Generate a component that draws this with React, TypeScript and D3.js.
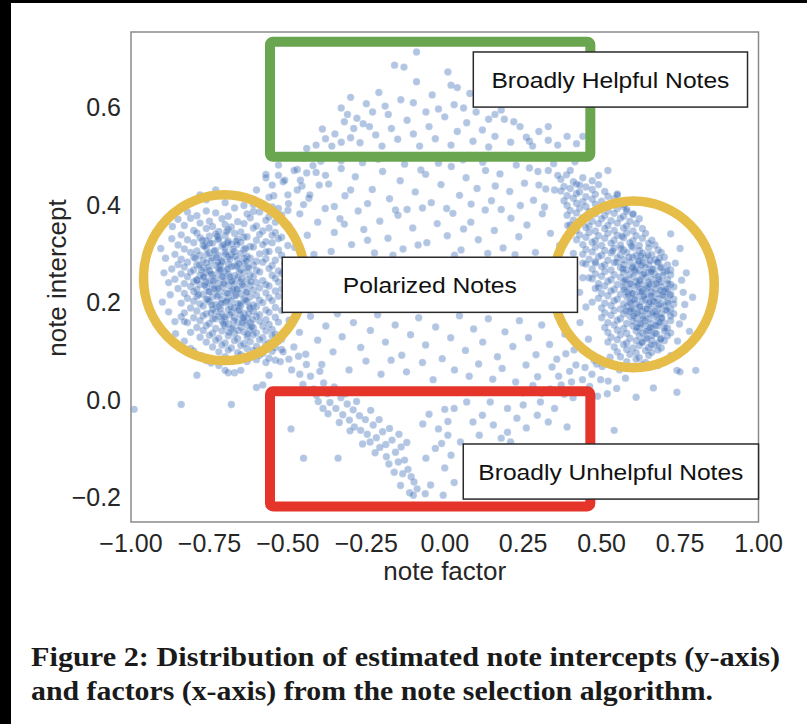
import React from "react";
import * as d3 from "d3";

// ---------- data ----------
const xTicks = [-1, -0.75, -0.5, -0.25, 0, 0.25, 0.5, 0.75, 1];
const yTicks = [-0.2, 0, 0.2, 0.4, 0.6];
const xDomain = [-1, 1];
const yDomain = [-0.251, 0.754];

const leftCluster = [
[-0.70,0.404],[-0.64,0.398],[-0.58,0.401],[-0.55,0.395],
[-0.76,0.387],[-0.67,0.393],[-0.61,0.386],[-0.53,0.392],[-0.50,0.388],
[-0.79,0.377],[-0.73,0.383],[-0.69,0.376],[-0.63,0.381],[-0.59,0.385],[-0.56,0.375],[-0.52,0.379],
[-0.81,0.372],[-0.75,0.366],[-0.71,0.371],[-0.66,0.365],[-0.62,0.373],[-0.57,0.368],[-0.54,0.364],
[-0.83,0.357],[-0.78,0.362],[-0.74,0.355],[-0.70,0.359],[-0.68,0.354],[-0.64,0.361],[-0.60,0.356],[-0.56,0.352],[-0.51,0.358],
[-0.80,0.347],[-0.76,0.351],[-0.72,0.345],[-0.69,0.349],[-0.65,0.344],[-0.61,0.352],[-0.58,0.346],[-0.54,0.343],
[-0.84,0.338],[-0.79,0.342],[-0.75,0.335],[-0.73,0.340],[-0.70,0.336],[-0.67,0.341],[-0.63,0.334],[-0.59,0.339],[-0.55,0.337],[-0.52,0.333],
[-0.82,0.328],[-0.78,0.332],[-0.76,0.326],[-0.72,0.331],[-0.69,0.325],[-0.66,0.329],[-0.64,0.333],[-0.60,0.327],[-0.57,0.324],[-0.53,0.330],
[-0.85,0.317],[-0.80,0.322],[-0.77,0.316],[-0.74,0.321],[-0.71,0.315],[-0.68,0.319],[-0.65,0.323],[-0.62,0.314],[-0.58,0.318],[-0.55,0.322],[-0.50,0.316],
[-0.83,0.309],[-0.79,0.305],[-0.76,0.311],[-0.73,0.306],[-0.70,0.312],[-0.67,0.304],[-0.64,0.308],[-0.61,0.313],[-0.57,0.303],[-0.53,0.307],
[-0.86,0.298],[-0.81,0.302],[-0.78,0.296],[-0.75,0.301],[-0.72,0.295],[-0.70,0.303],[-0.68,0.297],[-0.65,0.300],[-0.63,0.294],[-0.59,0.299],[-0.56,0.304],[-0.52,0.296],
[-0.84,0.288],[-0.80,0.292],[-0.77,0.286],[-0.74,0.291],[-0.71,0.285],[-0.69,0.293],[-0.66,0.287],[-0.62,0.290],[-0.60,0.284],[-0.57,0.289],[-0.54,0.286],
[-0.85,0.277],[-0.82,0.282],[-0.79,0.276],[-0.76,0.281],[-0.73,0.275],[-0.71,0.283],[-0.69,0.278],[-0.67,0.274],[-0.64,0.280],[-0.61,0.276],[-0.58,0.282],[-0.55,0.275],[-0.51,0.279],
[-0.87,0.268],[-0.83,0.272],[-0.80,0.266],[-0.77,0.271],[-0.75,0.265],[-0.72,0.270],[-0.70,0.264],[-0.68,0.273],[-0.65,0.267],[-0.63,0.271],[-0.60,0.265],[-0.56,0.269],[-0.53,0.264],
[-0.84,0.258],[-0.81,0.262],[-0.78,0.255],[-0.76,0.261],[-0.74,0.256],[-0.72,0.263],[-0.69,0.257],[-0.67,0.254],[-0.64,0.260],[-0.62,0.256],[-0.59,0.262],[-0.55,0.255],[-0.52,0.259],
[-0.86,0.247],[-0.82,0.252],[-0.79,0.246],[-0.77,0.251],[-0.75,0.244],[-0.73,0.249],[-0.71,0.253],[-0.68,0.245],[-0.66,0.250],[-0.63,0.246],[-0.61,0.252],[-0.58,0.244],[-0.54,0.249],[-0.50,0.246],
[-0.83,0.238],[-0.80,0.242],[-0.78,0.236],[-0.76,0.241],[-0.74,0.235],[-0.72,0.239],[-0.70,0.243],[-0.67,0.237],[-0.65,0.241],[-0.62,0.234],[-0.60,0.240],[-0.57,0.236],[-0.53,0.241],
[-0.85,0.228],[-0.81,0.232],[-0.79,0.226],[-0.76,0.231],[-0.73,0.225],[-0.71,0.230],[-0.69,0.234],[-0.66,0.227],[-0.64,0.232],[-0.61,0.225],[-0.59,0.229],[-0.56,0.233],[-0.52,0.227],
[-0.83,0.218],[-0.80,0.222],[-0.77,0.216],[-0.75,0.221],[-0.72,0.215],[-0.70,0.219],[-0.68,0.223],[-0.65,0.217],[-0.63,0.221],[-0.60,0.214],[-0.57,0.219],[-0.54,0.223],[-0.50,0.216],
[-0.82,0.208],[-0.79,0.212],[-0.76,0.206],[-0.74,0.211],[-0.71,0.205],[-0.69,0.209],[-0.67,0.213],[-0.64,0.207],[-0.62,0.211],[-0.59,0.204],[-0.56,0.209],[-0.53,0.212],
[-0.84,0.198],[-0.80,0.202],[-0.78,0.196],[-0.75,0.201],[-0.73,0.195],[-0.70,0.199],[-0.68,0.203],[-0.66,0.197],[-0.63,0.201],[-0.61,0.194],[-0.58,0.199],[-0.55,0.203],[-0.51,0.197],
[-0.81,0.188],[-0.77,0.192],[-0.74,0.186],[-0.72,0.191],[-0.69,0.185],[-0.67,0.189],[-0.65,0.193],[-0.62,0.187],[-0.60,0.191],[-0.57,0.184],[-0.54,0.189],
[-0.83,0.178],[-0.79,0.182],[-0.76,0.176],[-0.73,0.181],[-0.71,0.175],[-0.68,0.179],[-0.66,0.183],[-0.64,0.177],[-0.61,0.181],[-0.59,0.174],[-0.56,0.179],[-0.52,0.183],
[-0.80,0.168],[-0.77,0.172],[-0.74,0.166],[-0.72,0.171],[-0.70,0.165],[-0.67,0.169],[-0.65,0.173],[-0.63,0.167],[-0.60,0.171],[-0.57,0.164],[-0.54,0.169],
[-0.82,0.158],[-0.78,0.162],[-0.75,0.156],[-0.71,0.161],[-0.69,0.155],[-0.66,0.159],[-0.64,0.163],[-0.62,0.157],[-0.59,0.161],[-0.56,0.154],[-0.53,0.159],
[-0.79,0.148],[-0.76,0.152],[-0.73,0.146],[-0.70,0.151],[-0.68,0.145],[-0.65,0.149],[-0.63,0.153],[-0.61,0.147],[-0.58,0.151],[-0.55,0.144],
[-0.81,0.138],[-0.77,0.142],[-0.74,0.136],[-0.71,0.141],[-0.67,0.135],[-0.64,0.139],[-0.62,0.143],[-0.60,0.137],[-0.57,0.141],[-0.54,0.134],
[-0.78,0.128],[-0.75,0.132],[-0.72,0.126],[-0.69,0.131],[-0.66,0.125],[-0.63,0.129],[-0.61,0.133],[-0.58,0.127],[-0.55,0.131],[-0.52,0.124],
[-0.76,0.118],[-0.73,0.122],[-0.70,0.116],[-0.67,0.121],[-0.64,0.115],[-0.62,0.119],[-0.59,0.123],[-0.56,0.117],[-0.53,0.121],
[-0.74,0.108],[-0.71,0.112],[-0.68,0.106],[-0.65,0.111],[-0.63,0.105],[-0.60,0.109],[-0.57,0.113],[-0.54,0.107],
[-0.72,0.098],[-0.69,0.102],[-0.66,0.096],[-0.61,0.101],[-0.58,0.095],[-0.55,0.099],[-0.52,0.103],
[-0.70,0.088],[-0.65,0.092],[-0.62,0.086],[-0.59,0.091],[-0.56,0.085],
[-0.63,0.078],[-0.60,0.082],[-0.57,0.076],[-0.54,0.081],
[-0.765,0.315],[-0.735,0.305],[-0.705,0.318],[-0.675,0.308],[-0.745,0.285],[-0.715,0.275],[-0.685,0.288],[-0.655,0.279],
[-0.775,0.265],[-0.745,0.258],[-0.715,0.266],[-0.685,0.252],[-0.655,0.262],[-0.765,0.235],[-0.735,0.228],[-0.705,0.238],
[-0.675,0.226],[-0.645,0.236],[-0.755,0.205],[-0.725,0.212],[-0.695,0.202],[-0.665,0.214],[-0.635,0.204],[-0.745,0.178],
[-0.715,0.186],[-0.685,0.174],[-0.655,0.184],[-0.625,0.176],[-0.705,0.155],[-0.675,0.148],[-0.645,0.158],[-0.615,0.15],
[-0.795,0.29],[-0.79,0.245],[-0.785,0.215],[-0.725,0.335],[-0.695,0.345],[-0.665,0.325],[-0.635,0.31],[-0.625,0.27],
[-0.772,0.327],[-0.748,0.321],[-0.722,0.328],[-0.692,0.322],[-0.662,0.318],[-0.758,0.298],[-0.728,0.292],[-0.698,0.298],
[-0.668,0.294],[-0.638,0.29],[-0.782,0.276],[-0.752,0.272],[-0.722,0.282],[-0.692,0.268],[-0.662,0.274],[-0.632,0.284],
[-0.768,0.252],[-0.738,0.244],[-0.708,0.252],[-0.678,0.242],[-0.648,0.248],[-0.618,0.242],[-0.752,0.222],[-0.722,0.228],
[-0.692,0.218],[-0.662,0.226],[-0.632,0.22],[-0.742,0.194],[-0.712,0.198],[-0.682,0.19],[-0.652,0.196],[-0.622,0.19],
[-0.732,0.166],[-0.702,0.17],[-0.672,0.162],[-0.642,0.168],[-0.612,0.164],[-0.688,0.138],[-0.658,0.142],[-0.628,0.134],
];

const rightCluster = [
[0.37,0.452],[0.41,0.447],[0.44,0.455],[0.47,0.449],
[0.38,0.437],[0.42,0.442],[0.45,0.436],[0.49,0.441],
[0.37,0.428],[0.40,0.433],[0.43,0.426],[0.47,0.431],[0.51,0.427],
[0.39,0.418],[0.42,0.423],[0.45,0.416],[0.48,0.421],[0.52,0.417],[0.55,0.422],
[0.38,0.408],[0.41,0.413],[0.44,0.406],[0.47,0.411],[0.50,0.407],[0.54,0.412],
[0.39,0.398],[0.42,0.403],[0.45,0.396],[0.48,0.401],[0.51,0.397],[0.54,0.402],[0.57,0.396],
[0.40,0.388],[0.43,0.393],[0.46,0.386],[0.49,0.391],[0.52,0.387],[0.55,0.392],[0.58,0.386],
[0.39,0.378],[0.42,0.383],[0.45,0.376],[0.48,0.381],[0.51,0.377],[0.54,0.382],[0.57,0.376],[0.60,0.381],
[0.41,0.368],[0.44,0.373],[0.47,0.366],[0.50,0.371],[0.53,0.367],[0.56,0.372],[0.59,0.366],[0.62,0.371],
[0.40,0.358],[0.43,0.363],[0.46,0.356],[0.49,0.361],[0.52,0.357],[0.55,0.362],[0.58,0.356],[0.61,0.361],
[0.42,0.348],[0.45,0.353],[0.48,0.346],[0.51,0.351],[0.54,0.347],[0.57,0.352],[0.60,0.346],[0.63,0.351],
[0.43,0.338],[0.46,0.343],[0.49,0.336],[0.52,0.341],[0.55,0.337],[0.58,0.342],[0.61,0.336],[0.64,0.341],
[0.42,0.328],[0.45,0.333],[0.48,0.326],[0.51,0.331],[0.54,0.327],[0.57,0.332],[0.60,0.326],[0.63,0.331],[0.66,0.327],
[0.44,0.318],[0.47,0.323],[0.50,0.316],[0.53,0.321],[0.56,0.317],[0.59,0.322],[0.62,0.316],[0.65,0.321],[0.67,0.317],
[0.45,0.308],[0.48,0.313],[0.51,0.306],[0.54,0.311],[0.57,0.307],[0.60,0.312],[0.62,0.306],[0.65,0.311],[0.68,0.307],
[0.44,0.298],[0.47,0.303],[0.50,0.296],[0.53,0.301],[0.56,0.297],[0.58,0.302],[0.61,0.296],[0.63,0.301],[0.66,0.297],[0.69,0.302],
[0.46,0.288],[0.49,0.293],[0.52,0.286],[0.55,0.291],[0.57,0.287],[0.60,0.292],[0.62,0.286],[0.64,0.291],[0.67,0.287],[0.70,0.292],
[0.45,0.278],[0.48,0.283],[0.51,0.276],[0.54,0.281],[0.57,0.277],[0.59,0.282],[0.61,0.276],[0.63,0.281],[0.65,0.277],[0.68,0.282],[0.71,0.276],
[0.47,0.268],[0.50,0.273],[0.53,0.266],[0.56,0.271],[0.58,0.267],[0.60,0.272],[0.62,0.266],[0.64,0.271],[0.66,0.267],[0.69,0.272],[0.72,0.266],
[0.48,0.258],[0.51,0.263],[0.54,0.256],[0.57,0.261],[0.59,0.257],[0.61,0.262],[0.63,0.256],[0.65,0.261],[0.67,0.257],[0.70,0.262],[0.72,0.256],
[0.47,0.248],[0.50,0.253],[0.53,0.246],[0.56,0.251],[0.58,0.247],[0.60,0.252],[0.62,0.246],[0.64,0.251],[0.66,0.247],[0.68,0.252],[0.71,0.246],
[0.49,0.238],[0.52,0.243],[0.55,0.236],[0.57,0.241],[0.59,0.237],[0.61,0.242],[0.63,0.236],[0.65,0.241],[0.67,0.237],[0.69,0.242],[0.72,0.236],
[0.48,0.228],[0.51,0.233],[0.54,0.226],[0.57,0.231],[0.59,0.227],[0.61,0.232],[0.63,0.226],[0.65,0.231],[0.67,0.227],[0.69,0.232],[0.71,0.226],[0.73,0.231],
[0.50,0.218],[0.53,0.223],[0.56,0.216],[0.58,0.221],[0.60,0.217],[0.62,0.222],[0.64,0.216],[0.66,0.221],[0.68,0.217],[0.70,0.222],[0.72,0.216],
[0.49,0.208],[0.52,0.213],[0.55,0.206],[0.58,0.211],[0.60,0.207],[0.62,0.212],[0.64,0.206],[0.66,0.211],[0.68,0.207],[0.70,0.212],[0.73,0.206],
[0.51,0.198],[0.54,0.203],[0.57,0.196],[0.59,0.201],[0.61,0.197],[0.63,0.202],[0.65,0.196],[0.67,0.201],[0.69,0.197],[0.71,0.202],[0.73,0.196],
[0.50,0.188],[0.53,0.193],[0.56,0.186],[0.58,0.191],[0.60,0.187],[0.62,0.192],[0.64,0.186],[0.66,0.191],[0.68,0.187],[0.70,0.192],[0.72,0.186],
[0.51,0.178],[0.54,0.183],[0.57,0.176],[0.59,0.181],[0.61,0.177],[0.63,0.182],[0.65,0.176],[0.67,0.181],[0.69,0.177],[0.71,0.182],[0.73,0.176],
[0.50,0.168],[0.53,0.173],[0.56,0.166],[0.59,0.171],[0.61,0.167],[0.63,0.172],[0.65,0.166],[0.67,0.171],[0.69,0.167],[0.72,0.172],
[0.52,0.158],[0.55,0.163],[0.58,0.156],[0.60,0.161],[0.62,0.157],[0.64,0.162],[0.66,0.156],[0.68,0.161],[0.70,0.157],[0.72,0.162],
[0.51,0.148],[0.54,0.153],[0.57,0.146],[0.60,0.151],[0.62,0.147],[0.64,0.152],[0.66,0.146],[0.68,0.151],[0.71,0.147],
[0.52,0.138],[0.55,0.143],[0.58,0.136],[0.61,0.141],[0.63,0.137],[0.65,0.142],[0.67,0.136],[0.70,0.141],[0.72,0.137],
[0.53,0.128],[0.56,0.133],[0.59,0.126],[0.62,0.131],[0.64,0.127],[0.66,0.132],[0.69,0.126],[0.71,0.131],
[0.52,0.118],[0.55,0.123],[0.58,0.116],[0.61,0.121],[0.63,0.117],[0.66,0.122],[0.68,0.116],[0.70,0.121],
[0.54,0.108],[0.57,0.113],[0.60,0.106],[0.62,0.111],[0.65,0.107],[0.67,0.112],[0.69,0.106],
[0.55,0.098],[0.58,0.103],[0.61,0.096],[0.64,0.101],[0.66,0.097],[0.68,0.102],
[0.56,0.088],[0.59,0.093],[0.62,0.086],[0.65,0.091],
[0.58,0.078],[0.61,0.083],[0.64,0.076],
[0.60,0.068],[0.63,0.072],
[0.605,0.265],[0.635,0.258],[0.665,0.268],[0.695,0.255],[0.615,0.235],[0.645,0.228],[0.675,0.238],[0.705,0.226],
[0.605,0.205],[0.635,0.212],[0.665,0.202],[0.695,0.214],[0.615,0.178],[0.645,0.186],[0.675,0.174],[0.705,0.184],
[0.625,0.155],[0.655,0.148],[0.685,0.158],[0.575,0.245],[0.585,0.215],[0.595,0.185],[0.655,0.285],[0.625,0.295],
[0.685,0.29],[0.645,0.125],[0.675,0.135],[0.595,0.315],[0.565,0.335],[0.535,0.305],
[0.588,0.292],[0.618,0.284],[0.648,0.296],[0.678,0.282],[0.598,0.27],[0.628,0.276],[0.658,0.262],[0.688,0.27],
[0.708,0.264],[0.592,0.238],[0.622,0.244],[0.652,0.236],[0.682,0.246],[0.712,0.238],[0.598,0.218],[0.628,0.222],
[0.658,0.214],[0.688,0.224],[0.718,0.214],[0.592,0.198],[0.622,0.19],[0.652,0.2],[0.682,0.194],[0.712,0.198],
[0.602,0.172],[0.632,0.166],[0.662,0.178],[0.692,0.168],[0.612,0.148],[0.642,0.14],[0.672,0.152],[0.702,0.146],
[0.628,0.118],[0.658,0.112],[0.688,0.124],[0.568,0.268],[0.572,0.226],[0.578,0.182],[0.548,0.282],[0.562,0.31],
];

const upperNotes = [
[-0.09,0.713],[-0.16,0.686],[-0.13,0.682],[0.01,0.672],[-0.09,0.652],[0.02,0.645],[0.04,0.640],[-0.21,0.630],
[-0.30,0.620],[-0.14,0.615],[-0.10,0.609],[-0.04,0.625],[-0.19,0.602],[-0.25,0.607],[0.08,0.628],[0.18,0.594],
[0.06,0.598],[-0.02,0.596],[0.14,0.575],[0.22,0.570],
[-0.33,0.598],[-0.31,0.585],[-0.28,0.577],[-0.26,0.566],[-0.24,0.560],[-0.29,0.556],[-0.32,0.570],[-0.35,0.545],
[-0.38,0.535],[-0.41,0.522],[-0.36,0.520],[-0.33,0.528],[-0.30,0.537],[-0.27,0.527],[-0.22,0.543],[-0.20,0.520],
[-0.17,0.556],[-0.15,0.534],[-0.12,0.573],[-0.10,0.545],[-0.08,0.520],[-0.05,0.560],[-0.03,0.535],[0.00,0.580],
[0.02,0.522],[0.04,0.550],[0.07,0.568],[0.09,0.530],[0.12,0.553],[0.14,0.518],[0.16,0.540],[0.19,0.575],
[0.21,0.528],[0.24,0.560],[0.26,0.538],[0.28,0.520],[0.30,0.550],[0.27,0.530],[0.33,0.532],[0.36,0.522],
[0.39,0.540],[0.42,0.525],[-0.44,0.515],[-0.39,0.555],[-0.18,0.585],[-0.06,0.590],[0.03,0.605],[0.10,0.590],
[0.16,0.585],[-0.23,0.590],[0.33,0.560],[0.44,0.540],
[-0.57,0.462],[-0.53,0.481],[-0.515,0.447],[-0.47,0.472],[-0.455,0.438],[-0.41,0.466],[-0.395,0.489],[-0.37,0.442],
[-0.33,0.474],[-0.318,0.418],[-0.285,0.457],[-0.262,0.486],[-0.231,0.431],[-0.198,0.468],[-0.176,0.412],[-0.142,0.449],
[-0.128,0.483],[-0.094,0.426],[-0.061,0.462],[-0.043,0.404],[-0.012,0.441],[0.021,0.478],[0.047,0.419],[0.068,0.455],
[0.103,0.433],[0.121,0.487],[0.149,0.408],[0.176,0.463],[0.207,0.427],[0.228,0.481],[0.254,0.444],[0.283,0.409],
[0.297,0.468],[0.322,0.432],[0.347,0.484],[0.388,0.461],[0.415,0.488],[-0.545,0.418],[-0.498,0.402],[-0.433,0.413],
[-0.352,0.396],[-0.246,0.402],[-0.157,0.389],[-0.076,0.471],[0.006,0.392],[0.084,0.401],[0.161,0.438],[0.241,0.398],
[0.318,0.395],[-0.212,0.493],[0.058,0.492],[-0.30,0.43],[0.13,0.47],[-0.02,0.485],[0.27,0.475],
[-0.60,0.43],[-0.57,0.455],[-0.55,0.44],[-0.53,0.46],[-0.51,0.45],[-0.48,0.47],[-0.46,0.45],[-0.44,0.465],
[-0.42,0.48],[-0.50,0.42],[-0.47,0.43],[-0.62,0.41],[-0.59,0.40],[-0.56,0.415],[-0.45,0.40],[-0.43,0.42],
[-0.40,0.44],[-0.38,0.46],[-0.36,0.50],[-0.33,0.49],[-0.40,0.50],[-0.45,0.495],[-0.49,0.50],
[0.33,0.47],[0.36,0.46],[0.40,0.47],[0.43,0.44],[0.35,0.43],[0.30,0.44],
];

const middleNotes = [
[-0.53,0.372],[-0.497,0.356],[-0.462,0.381],[-0.438,0.337],[-0.405,0.364],[-0.381,0.392],[-0.352,0.343],[-0.334,0.371],
[-0.297,0.318],[-0.276,0.387],[-0.258,0.349],[-0.224,0.301],[-0.207,0.366],[-0.181,0.331],[-0.149,0.378],[-0.133,0.309],
[-0.102,0.352],[-0.071,0.393],[-0.057,0.322],[-0.024,0.361],[0.008,0.336],[0.026,0.382],[0.052,0.307],[0.083,0.364],
[0.107,0.328],[0.129,0.389],[0.158,0.347],[0.186,0.311],[0.211,0.372],[0.236,0.334],[0.262,0.358],[0.289,0.302],
[0.311,0.381],[0.337,0.341],[0.366,0.316],[0.392,0.357],[-0.478,0.312],[-0.417,0.298],[-0.362,0.304],[-0.246,0.327],
[-0.165,0.296],[-0.085,0.317],[0.031,0.296],[0.137,0.30],[0.224,0.297],[0.41,0.30],[-0.32,0.36],[0.18,0.39],
[-0.12,0.39],[0.06,0.35],
[-0.49,0.27],[-0.47,0.24],[-0.48,0.20],[-0.46,0.22],[-0.49,0.23],[-0.47,0.28],
[0.44,0.28],[0.46,0.25],[0.43,0.22],[0.47,0.20],[0.45,0.19],[0.49,0.23],[0.44,0.25],[0.48,0.28],
];

const lowerNotes = [
[-0.496,0.163],[-0.463,0.138],[-0.428,0.171],[-0.405,0.122],[-0.379,0.151],[-0.342,0.176],[-0.327,0.129],[-0.291,0.158],
[-0.268,0.107],[-0.237,0.142],[-0.214,0.174],[-0.189,0.118],[-0.158,0.153],[-0.137,0.091],[-0.109,0.133],[-0.083,0.168],
[-0.061,0.112],[-0.029,0.149],[-0.008,0.084],[0.019,0.127],[0.047,0.172],[0.066,0.101],[0.092,0.145],[0.121,0.118],
[0.139,0.166],[0.168,0.088],[0.192,0.139],[0.217,0.109],[0.238,0.162],[0.267,0.127],[0.291,0.092],[0.309,0.153],
[0.334,0.113],[0.361,0.171],[0.383,0.134],[0.412,0.102],[0.431,0.158],[0.458,0.124],[0.476,0.081],[-0.443,0.093],
[-0.392,0.072],[-0.356,0.098],[-0.305,0.061],[-0.251,0.079],[-0.203,0.052],[-0.171,0.081],[-0.122,0.057],[-0.071,0.076],
[-0.037,0.041],[0.031,0.061],[0.078,0.048],[0.108,0.073],[0.153,0.042],[0.183,0.064],[0.226,0.036],[0.259,0.071],
[0.296,0.047],[0.342,0.067],[0.371,0.03],[0.398,0.058],[0.439,0.041],[0.469,0.052],[0.502,0.068],[0.527,0.087],
[0.557,0.061],[0.521,0.038],[0.576,0.044],[0.548,0.023],
[0.357,0.083],[0.386,0.094],[0.418,0.071],[0.447,0.066],[0.484,0.073],[0.497,0.041],[0.462,0.027],[0.427,0.016],
[0.404,0.036],[0.363,0.048],[0.336,0.022],[0.409,0.004],[0.381,0.011],[0.518,0.012],[0.487,0.007],[0.309,0.013],
[0.281,0.029],[0.248,0.014],
];

const unhelpfulNotes = [
[-0.53,0.12],[-0.515,0.098],[-0.497,0.083],[-0.524,0.078],[-0.481,0.108],[-0.488,0.061],[-0.466,0.089],[-0.462,0.052],
[-0.441,0.072],[-0.452,0.031],[-0.428,0.048],[-0.417,0.022],[-0.398,0.058],[-0.409,0.009],[-0.386,0.034],[-0.374,0.012],
[-0.366,-0.006],[-0.352,0.026],[-0.347,-0.018],[-0.331,0.004],[-0.325,-0.031],[-0.311,-0.009],[-0.304,-0.042],[-0.292,-0.021],
[-0.288,-0.056],[-0.272,-0.033],[-0.268,-0.063],[-0.253,-0.041],[-0.247,-0.071],[-0.236,-0.022],[-0.228,-0.052],[-0.218,-0.078],
[-0.209,-0.041],[-0.198,-0.066],[-0.188,-0.092],[-0.176,-0.059],[-0.168,-0.083],[-0.157,-0.108],[-0.146,-0.071],[-0.139,-0.097],
[-0.128,-0.124],[-0.121,-0.088],[-0.117,-0.143],[-0.107,-0.158],[-0.098,-0.169],[-0.134,-0.152],[-0.161,-0.149],[-0.186,-0.117],
[-0.207,-0.098],[-0.238,-0.087],[-0.302,-0.064],[-0.336,-0.047],[-0.372,-0.029],[-0.262,-0.091],[-0.222,-0.109],[-0.178,-0.132],
[-0.148,-0.128],[-0.088,-0.183],[-0.112,-0.191],[-0.141,-0.176],[-0.062,-0.193],[-0.388,-0.018],[-0.403,-0.004],[-0.281,-0.004],
[-0.316,0.012],[-0.49,-0.06],[-0.45,-0.12],[-0.34,-0.12],[-0.10,-0.196],[-0.045,-0.175],[-0.005,-0.196],
[0.03,-0.018],[0.09,-0.046],[0.12,-0.032],[0.155,-0.052],[0.20,-0.067],[0.23,-0.038],[0.26,-0.058],[0.295,-0.032],
[0.33,-0.046],[0.35,-0.018],[0.39,-0.056],[0.01,-0.073],[0.05,-0.087],[0.02,-0.114],[0.00,-0.14],[0.03,-0.17],
[0.07,-0.005],[0.145,-0.005],[0.20,-0.018],[0.25,-0.011],[0.305,-0.005],[0.18,-0.079],[0.21,-0.087],[0.11,-0.073],
[-0.05,-0.03],[-0.02,-0.06],[-0.07,-0.05],[0.00,-0.02],[-0.03,-0.10],[-0.06,-0.12],[0.01,-0.045],[-0.01,-0.09],
];

const fringeNotes = [
[-0.90,0.20],[-0.88,0.18],[-0.84,0.17],[-0.83,0.16],[-0.88,0.24],[-0.89,0.29],[-0.87,0.33],[-0.86,0.16],
[-0.83,0.12],[-0.80,0.10],[-0.85,0.37],[-0.82,0.40],[-0.78,0.42],[-0.73,0.43],[-0.68,0.42],[-0.79,0.05],
[-0.69,0.055],[-0.67,0.055],[-0.84,-0.01],[-0.68,-0.01],[-0.99,-0.02],[-0.60,0.025],[-0.58,0.03],[-0.76,0.08],
[-0.72,0.07],[-0.65,0.06],[-0.56,0.05],
[-0.895,0.26],[-0.875,0.215],[-0.905,0.31],[-0.868,0.355],[-0.858,0.135],[-0.81,0.105],[-0.775,0.09],[-0.745,0.075],
[-0.70,0.06],[-0.82,0.385],[-0.76,0.41],[-0.70,0.42],[-0.64,0.415],[-0.61,0.40],
[0.76,0.22],[0.77,0.26],[0.76,0.17],[0.79,0.21],[0.78,0.14],[0.74,0.06],[0.75,0.057],[0.80,0.06],
[0.74,0.015],[0.665,0.024],[0.61,0.005],[0.54,-0.063],[0.72,0.09],[0.77,0.11],[0.75,0.31],[0.72,0.34],
[0.57,0.40],[0.60,0.38],[0.55,0.42],[0.52,0.47],[0.49,0.46],[0.58,0.39],
[0.755,0.245],[0.765,0.195],[0.748,0.155],[0.742,0.12],[0.735,0.28],[0.705,0.08],[0.68,0.07],[0.73,0.09],
];

const allNotes = [
  ...leftCluster, ...rightCluster, ...upperNotes, ...middleNotes,
  ...lowerNotes, ...unhelpfulNotes, ...fringeNotes,
];

// annotation regions (data units)
const rectRegions = [
  { x0: -0.557, x1: 0.464, y0: 0.498, y1: 0.734, color: "#6aa54f" },
  { x0: -0.557, x1: 0.464, y0: -0.219, y1: 0.017, color: "#e5352a" },
];
const ellipseRegions = [
  { cx: -0.703, cy: 0.250, rx: 0.257, ry: 0.170, color: "#e6bd48" },
  { cx: 0.602, cy: 0.2365, rx: 0.257, ry: 0.171, color: "#e6bd48" },
];
const labelBoxes = [
  { text: "Broadly Helpful Notes", x0: 0.091, x1: 0.965, y0: 0.600, y1: 0.713, tw: 238 },
  { text: "Polarized Notes", x0: -0.518, x1: 0.423, y0: 0.179, y1: 0.292, tw: 174 },
  { text: "Broadly Unhelpful Notes", x0: 0.059, x1: 1.0, y0: -0.204, y1: -0.091, tw: 265 },
];
const captionLines = [
  "Figure 2: Distribution of estimated note intercepts (y-axis)",
  "and factors (x-axis) from the note selection algorithm.",
];

export default function App() {
  const W = 807, H = 724;
  const left = 131, right = 758.5, top = 32, bottom = 522;
  const x = d3.scaleLinear().domain(xDomain).range([left, right]);
  const y = d3.scaleLinear().domain(yDomain).range([bottom, top]);
  const fx = d3.format(".2f");
  const fy = d3.format(".1f");
  const sans = "'Liberation Sans', Arial, Helvetica, sans-serif";
  const serif = "'Liberation Serif', 'DejaVu Serif', serif";

  return (
    <svg width={W} height={H} style={{ position: "absolute", left: 0, top: 0, background: "#fff" }}>
      <rect x={0} y={0} width={W} height={H} fill="#fff" />
      <rect x={0} y={0} width={11} height={H} fill="#000" />
      <rect x={0} y={0} width={W} height={3} fill="#000" />

      {/* points */}
      <g>
        {allNotes.map((d, i) => (
          <circle key={i} cx={x(d[0])} cy={y(d[1])} r={3.7} fill="#2a5dae" fillOpacity={0.36}
            stroke="#ffffff" strokeOpacity={0.3} strokeWidth={0.6} />
        ))}
      </g>

      {/* frame */}
      <rect x={left} y={top} width={right - left} height={bottom - top} fill="none" stroke="#8a8a8a" strokeWidth={1.5} />

      {/* ticks */}
      <g fontFamily={sans} fontSize={25} fill="#262626">
        {xTicks.map((t) => (
          <text key={t} x={x(t)} y={bottom + 30} textAnchor="middle">{fx(t)}</text>
        ))}
        {yTicks.map((t) => (
          <text key={t} x={left - 10} y={y(t) + 9} textAnchor="end">{fy(t)}</text>
        ))}
      </g>
      <text x={x(0)} y={580} textAnchor="middle" fontFamily={sans} fontSize={26} fill="#262626">note factor</text>
      <text transform={`translate(66,${(top + bottom) / 2 + 1}) rotate(-90)`} textAnchor="middle" fontFamily={sans} fontSize={26} fill="#262626">note intercept</text>

      {/* annotation shapes */}
      {rectRegions.map((r, i) => (
        <rect key={i} x={x(r.x0)} y={y(r.y1)} width={x(r.x1) - x(r.x0)} height={y(r.y0) - y(r.y1)}
          fill="none" stroke={r.color} strokeWidth={10} rx={3} />
      ))}
      {ellipseRegions.map((e, i) => (
        <ellipse key={i} cx={x(e.cx)} cy={y(e.cy)} rx={x(e.cx + e.rx) - x(e.cx)} ry={y(e.cy) - y(e.cy + e.ry)}
          fill="none" stroke={e.color} strokeWidth={9.5} />
      ))}
      {labelBoxes.map((b, i) => {
        const bx = x(b.x0), by = y(b.y1), bw = x(b.x1) - x(b.x0), bh = y(b.y0) - y(b.y1);
        return (
          <g key={i}>
            <rect x={bx} y={by} width={bw} height={bh} fill="#fff" stroke="#2a2a2a" strokeWidth={1.5} />
            <text x={bx + bw / 2} y={by + bh / 2 + 8} textAnchor="middle" fontFamily={sans} fontSize={22}
              textLength={b.tw} lengthAdjust="spacingAndGlyphs" fill="#111">{b.text}</text>
          </g>
        );
      })}

      {/* caption */}
      <g fontFamily={serif} fontWeight="bold" fontSize={27} fill="#1a1a1a">
        <text x={31} y={666} textLength={749} lengthAdjust="spacingAndGlyphs">{captionLines[0]}</text>
        <text x={31} y={700} textLength={682} lengthAdjust="spacingAndGlyphs">{captionLines[1]}</text>
      </g>
    </svg>
  );
}
